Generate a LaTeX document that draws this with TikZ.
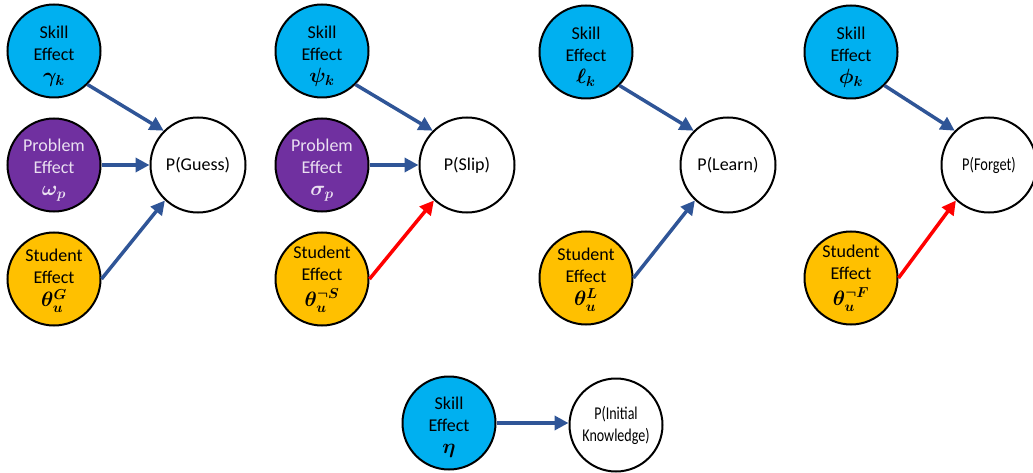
\documentclass[tikz,border=0pt]{standalone}
\usepackage{fontspec}
\setmainfont{Carlito}
\usetikzlibrary{arrows.meta}
\definecolor{skillc}{HTML}{00B0F0}
\definecolor{probc}{HTML}{7030A0}
\definecolor{studc}{HTML}{FFC000}
\definecolor{arrb}{HTML}{2F5597}
\definecolor{arrr}{HTML}{FF0000}
\newcommand{\mth}[1]{{\fontsize{20}{22}\selectfont\boldmath$#1$}}
\tikzset{
  effect/.style={circle, draw=black, line width=2pt, minimum size=93pt, inner sep=0pt},
  skill/.style={effect, fill=skillc},
  prob/.style={effect, fill=probc},
  stud/.style={effect, fill=studc},
  efftext/.style={align=center, inner sep=0pt, font=\fontsize{18}{22}\selectfont},
  probtext/.style={efftext, text=white!85!probc},
  outc/.style={circle, draw=black, line width=2pt, minimum size=95pt, inner sep=0pt, align=center, fill=white, font=\fontsize{18}{22}\selectfont},
  barrow/.style={draw=arrb, line width=3.5pt, -{Triangle[length=14pt,width=14pt]}},
  rarrow/.style={draw=arrr, line width=3.5pt, -{Triangle[length=14pt,width=14pt]}},
}
\begin{document}
\begin{tikzpicture}[x=1pt,y=-1pt]
\useasboundingbox (0,0) rectangle (1033,473);
% group 1
\node[skill] (s1) at (54,51) {};
\node[efftext] (s1t) at ([yshift=-5pt]s1.center) {Skill\\Effect\\\mth{\gamma_k}};
\node[prob] (p1) at (54,165) {};
\node[probtext] (p1t) at ([yshift=-5pt]p1.center) {Problem\\Effect\\\mth{\omega_p}};
\node[stud] (u1) at (54,279) {};
\node[efftext] (u1t) at ([yshift=-2pt]u1.center) {Student\\Effect\\[1pt]\mth{\theta_u^G}};
\node[outc] (g1) at (198,165) {P(Guess)};
\draw[barrow] (s1.-45) -- (g1.135);
\draw[barrow] (p1.east) -- (g1.west);
\draw[barrow] (u1.east) -- (g1.-133);
% group 2
\node[skill] (s2) at (322,51) {};
\node[efftext] (s2t) at ([yshift=-5pt]s2.center) {Skill\\Effect\\\mth{\psi_k}};
\node[prob] (p2) at (322,165) {};
\node[probtext] (p2t) at ([yshift=-5pt]p2.center) {Problem\\Effect\\\mth{\sigma_p}};
\node[stud] (u2) at (322,279) {};
\node[efftext] (u2t) at ([yshift=0pt]u2.center) {Student\\Effect\\[4pt]\mth{\theta_u^{\neg S}}};
\node[outc] (g2) at (467,165) {P(Slip)};
\draw[barrow] (s2.-45) -- (g2.135);
\draw[barrow] (p2.east) -- (g2.west);
\draw[rarrow] (u2.east) -- (g2.-133);
% group 3
\node[skill] (s3) at (586,52) {};
\node[efftext] (s3t) at ([yshift=-5pt]s3.center) {Skill\\Effect\\\mth{\ell_k}};
\node[stud] (u3) at (586,278) {};
\node[efftext] (u3t) at ([yshift=-2pt]u3.center) {Student\\Effect\\[1pt]\mth{\theta_u^L}};
\node[outc] (g3) at (728,165) {P(Learn)};
\draw[barrow] (s3.-45) -- (g3.135);
\draw[barrow] (u3.east) -- (g3.-133);
% group 4
\node[skill] (s4) at (851,52) {};
\node[efftext] (s4t) at ([yshift=-5pt]s4.center) {Skill\\Effect\\\mth{\phi_k}};
\node[stud] (u4) at (851,278) {};
\node[efftext] (u4t) at ([yshift=0pt]u4.center) {Student\\Effect\\[4pt]\mth{\theta_u^{\neg F}}};
\node[outc] (g4) at (989,165) {\scalebox{0.8}[1]{P(Forget)}};
\draw[barrow] (s4.-45) -- (g4.135);
\draw[rarrow] (u4.east) -- (g4.-133);
% bottom
\node[skill] (s5) at (449,423) {};
\node[efftext] (s5t) at ([yshift=-4pt]s5.center) {Skill\\Effect\\\mth{\eta}};
\node[outc, minimum size=93pt] (g5) at (616,425) {\scalebox{0.78}[1]{P(Initial}\\\scalebox{0.78}[1]{Knowledge)}};
\draw[barrow] (s5.east) -- (g5.west |- s5.east);
\end{tikzpicture}
\end{document}
